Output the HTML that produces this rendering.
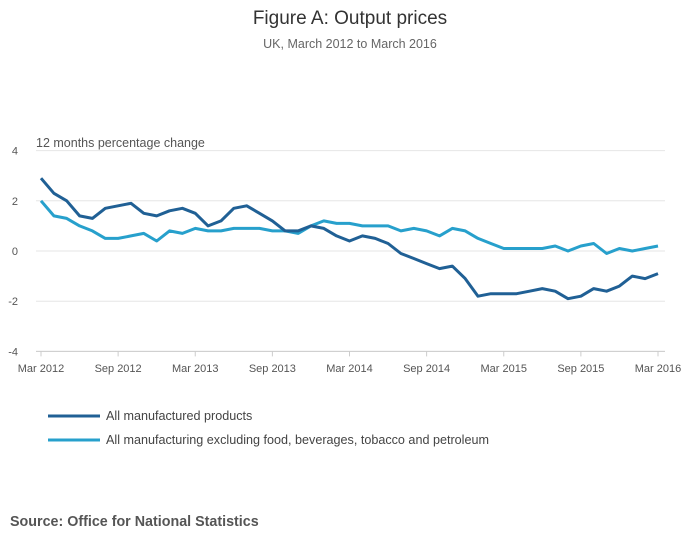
<!DOCTYPE html>
<html><head><meta charset="utf-8"><style>
body{margin:0;background:#fff;font-family:"Liberation Sans",sans-serif;}
svg text{font-family:"Liberation Sans",sans-serif;}
</style></head><body>
<svg id="chart" width="700" height="549">
<text x="350" y="24" text-anchor="middle" font-size="19" fill="#333">Figure A: Output prices</text>
<text x="350" y="48" text-anchor="middle" font-size="12.5" fill="#666">UK, March 2012 to March 2016</text>
<text x="36" y="147" font-size="12.5" fill="#555">12 months percentage change</text>
<g id="grid"></g><g id="xaxis"></g><g id="lines"></g>
<g>
<line x1="48" y1="416" x2="100" y2="416" stroke="#206095" stroke-width="3"/>
<text x="106" y="420" font-size="12.6" fill="#444">All manufactured products</text>
<line x1="48" y1="440" x2="100" y2="440" stroke="#27a0cc" stroke-width="3"/>
<text x="106" y="444" font-size="12.6" fill="#444">All manufacturing excluding food, beverages, tobacco and petroleum</text>
</g>
<text x="10" y="526" font-size="14.3" font-weight="bold" fill="#555">Source: Office for National Statistics</text>
</svg>
<script>
const xLabels=["Mar 2012","Sep 2012","Mar 2013","Sep 2013","Mar 2014","Sep 2014","Mar 2015","Sep 2015","Mar 2016"];
const yTicks=[4,2,0,-2,-4];
const allManufactured=[2.9,2.3,2.0,1.4,1.3,1.7,1.8,1.9,1.5,1.4,1.6,1.7,1.5,1.0,1.2,1.7,1.8,1.5,1.2,0.8,0.8,1.0,0.9,0.6,0.4,0.6,0.5,0.3,-0.1,-0.3,-0.5,-0.7,-0.6,-1.1,-1.8,-1.7,-1.7,-1.7,-1.6,-1.5,-1.6,-1.9,-1.8,-1.5,-1.6,-1.4,-1.0,-1.1,-0.9];
const excluding=[2.0,1.4,1.3,1.0,0.8,0.5,0.5,0.6,0.7,0.4,0.8,0.7,0.9,0.8,0.8,0.9,0.9,0.9,0.8,0.8,0.7,1.0,1.2,1.1,1.1,1.0,1.0,1.0,0.8,0.9,0.8,0.6,0.9,0.8,0.5,0.3,0.1,0.1,0.1,0.1,0.2,0.0,0.2,0.3,-0.1,0.1,0.0,0.1,0.2];
const NS="http://www.w3.org/2000/svg";
const x=i=>41+i*(658-41)/48;
const y=v=>251-v*25.1;
function mk(tag,attrs,parent){const e=document.createElementNS(NS,tag);for(const k in attrs)e.setAttribute(k,attrs[k]);parent.appendChild(e);return e;}
const grid=document.getElementById('grid');
yTicks.forEach(t=>{
  const l=mk('line',{x1:36,x2:665,y1:y(t),y2:y(t),stroke:'#e6e6e6','stroke-width':1},grid);
  
  
  const tx=mk('text',{x:18,y:y(t)+4,'text-anchor':'end','font-size':11,fill:'#555'},grid);
  tx.textContent=t;
  
  
});
const xa=document.getElementById('xaxis');
const ax=mk('line',{x1:36,x2:665,y1:y(-4),y2:y(-4),stroke:'#ccc'},xa);


xLabels.forEach((s,k)=>{
  const xx=x(k*6);
  const tk=mk('line',{x1:xx,x2:xx,y1:y(-4),y2:y(-4)+5,stroke:'#ccc'},xa);
  
  
  const t=mk('text',{x:xx,y:372,'text-anchor':'middle','font-size':11,fill:'#555'},xa);
  t.textContent=s;
  
  
});
const lines=document.getElementById('lines');
function series(data,color,name){
  const p=mk('path',{d:data.map((v,i)=>(i?'L':'M')+x(i).toFixed(1)+','+y(v).toFixed(1)).join(''),fill:'none',stroke:color,'stroke-width':3,'stroke-linejoin':'round'},lines);
  
  
}
series(excluding,'#27a0cc','line-excluding-food-beverages');
series(allManufactured,'#206095','line-all-manufactured');
</script>
</body></html>
